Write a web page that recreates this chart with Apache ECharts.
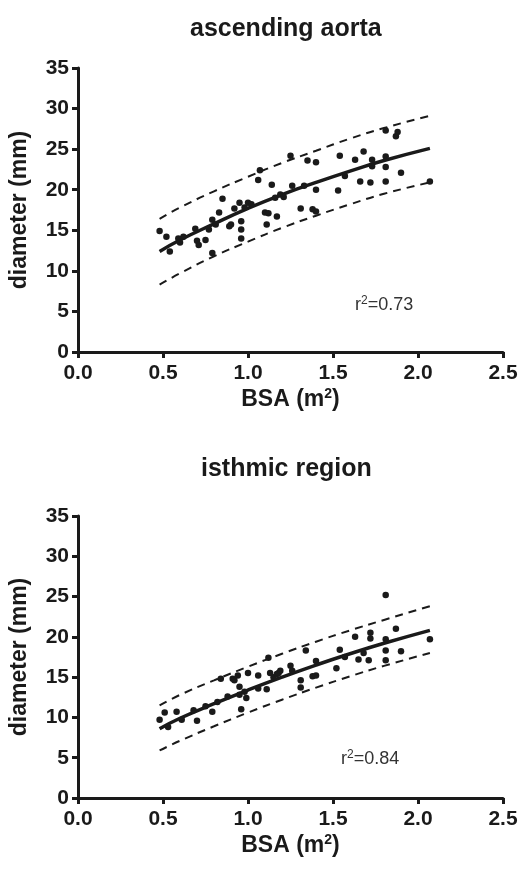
<!DOCTYPE html>
<html><head><meta charset="utf-8">
<script src="https://cdn.jsdelivr.net/npm/echarts@6/dist/echarts.min.js"></script>
<style>html,body{margin:0;padding:0;background:#fff}#c{width:521px;height:873px}</style>
</head><body><div id="c"></div>
<script>
const xTicks = [0.0, 0.5, 1.0, 1.5, 2.0, 2.5];
const yTicks = [0, 5, 10, 15, 20, 25, 30, 35];

const titles = ['ascending aorta', 'isthmic region'];
const r2Labels = ['0.73', '0.84'];

// ascending aorta: [BSA, diameter]
const aortaPoints = [[0.48,14.9],[0.52,14.2],[0.54,12.4],[0.59,14.0],[0.60,13.5],[0.62,14.2],[0.69,15.2],[0.70,13.7],[0.71,13.2],[0.75,13.8],[0.77,15.1],[0.79,12.2],[0.79,16.3],[0.81,15.7],[0.83,17.2],[0.85,18.9],[0.89,15.5],[0.90,15.7],[0.92,17.7],[0.95,18.4],[0.96,16.1],[0.96,15.1],[0.96,14.0],[0.98,17.8],[1.00,18.4],[1.02,18.2],[1.06,21.2],[1.07,22.4],[1.10,17.2],[1.11,15.7],[1.12,17.1],[1.14,20.6],[1.16,19.0],[1.17,16.7],[1.19,19.4],[1.21,19.1],[1.25,24.2],[1.26,20.5],[1.31,17.7],[1.33,20.5],[1.35,23.6],[1.38,17.6],[1.40,23.4],[1.40,17.3],[1.40,20.0],[1.53,19.9],[1.54,24.2],[1.57,21.7],[1.63,23.7],[1.66,21.0],[1.68,24.7],[1.72,20.9],[1.73,23.7],[1.73,22.9],[1.81,24.1],[1.81,22.8],[1.81,21.0],[1.81,27.3],[1.87,26.6],[1.88,27.1],[1.90,22.1],[2.07,21.0]];
const fitBSA = [0.48, 0.6, 0.8, 1.0, 1.2, 1.4, 1.6, 1.8, 2.07];
const aortaFit   = [12.4, 13.8, 15.8, 17.7, 19.4, 20.9, 22.3, 23.6, 25.1];
const aortaUpper = [16.4, 17.8, 19.8, 21.6, 23.3, 24.8, 26.3, 27.6, 29.1];
const aortaLower = [8.3, 9.7, 11.8, 13.6, 15.3, 16.8, 18.2, 19.5, 20.9];

// isthmic region: [BSA, diameter]
const isthmusPoints = [[0.48,9.7],[0.51,10.6],[0.53,8.8],[0.58,10.7],[0.61,9.7],[0.68,10.9],[0.70,9.6],[0.75,11.4],[0.79,10.7],[0.82,11.9],[0.84,14.8],[0.88,12.6],[0.91,14.8],[0.92,14.6],[0.94,15.2],[0.95,13.8],[0.95,12.8],[0.96,11.0],[0.99,12.4],[0.98,13.2],[1.00,15.5],[1.06,15.2],[1.06,13.6],[1.11,13.5],[1.12,17.4],[1.13,15.5],[1.15,15.0],[1.17,15.4],[1.18,15.5],[1.19,15.8],[1.25,16.4],[1.26,15.8],[1.31,14.6],[1.31,13.7],[1.34,18.3],[1.38,15.1],[1.40,15.2],[1.40,17.0],[1.52,16.1],[1.54,18.4],[1.57,17.5],[1.63,20.0],[1.65,17.2],[1.68,18.0],[1.71,17.1],[1.72,20.5],[1.72,19.8],[1.81,25.2],[1.81,19.7],[1.81,18.3],[1.81,17.1],[1.87,21.0],[1.90,18.2],[2.07,19.7]];
const isthmusFit   = [8.6, 9.9, 11.7, 13.4, 15.0, 16.5, 17.9, 19.2, 20.8];
const isthmusUpper = [11.5, 12.8, 14.6, 16.3, 17.9, 19.4, 20.8, 22.1, 23.8];
const isthmusLower = [5.9, 7.1, 8.9, 10.6, 12.2, 13.7, 15.1, 16.4, 18.0];

const INK = '#1a1a1a';
const FONT = '"Liberation Sans", Arial, sans-serif';
const zip = (xs, ys) => xs.map((x, i) => [x, ys[i]]);

const grids = [
  {left: 77, top: 68, width: 426, height: 284},
  {left: 77, top: 516, width: 426, height: 282}
];

function xAxis(i) {
  return {
    gridIndex: i, type: 'value', min: 0, max: 2.5, interval: 0.5,
    name: 'BSA (m{sup|2})', nameLocation: 'middle', nameGap: 35,
    nameTextStyle: {color: INK, fontFamily: FONT, fontWeight: 'bold', fontSize: 23,
      rich: {sup: {fontSize: 14, fontWeight: 'bold', color: INK, fontFamily: FONT, verticalAlign: 'top', padding: [0,0,12,0]}}},
    axisLine: {show: true, lineStyle: {color: INK, width: 3}},
    axisTick: {show: true, length: 6, lineStyle: {color: INK, width: 3}},
    axisLabel: {color: INK, fontFamily: FONT, fontWeight: 'bold', fontSize: 21, margin: 11,
      formatter: v => v.toFixed(1)},
    splitLine: {show: false}
  };
}
function yAxis(i) {
  return {
    gridIndex: i, type: 'value', min: 0, max: 35, interval: 5,
    name: 'diameter (mm)', nameLocation: 'middle', nameGap: 47,
    nameTextStyle: {color: INK, fontFamily: FONT, fontWeight: 'bold', fontSize: 23},
    axisLine: {show: true, lineStyle: {color: INK, width: 3}},
    axisTick: {show: true, length: 6, lineStyle: {color: INK, width: 3}},
    axisLabel: {color: INK, fontFamily: FONT, fontWeight: 'bold', fontSize: 21, margin: 9},
    splitLine: {show: false}
  };
}

function seriesFor(i, pts, fit, up, lo) {
  const lineBase = {type: 'line', xAxisIndex: i, yAxisIndex: i, symbol: 'none', smooth: true, silent: true};
  return [
    Object.assign({}, lineBase, {data: zip(fitBSA, fit), lineStyle: {color: INK, width: 3.5}, z: 3}),
    Object.assign({}, lineBase, {data: zip(fitBSA, up), lineStyle: {color: INK, width: 2, type: [8, 6]}}),
    Object.assign({}, lineBase, {data: zip(fitBSA, lo), lineStyle: {color: INK, width: 2, type: [8, 6]}}),
    {type: 'scatter', xAxisIndex: i, yAxisIndex: i, data: pts, symbol: 'circle', symbolSize: 6.5,
      itemStyle: {color: INK, opacity: 1}, z: 4}
  ];
}

const chart = echarts.init(document.getElementById('c'), null, {renderer: 'canvas'});
chart.setOption({
  animation: false,
  backgroundColor: '#fff',
  title: [
    {text: titles[0], left: 185, top: 12, textStyle: {fontFamily: FONT, fontWeight: 'bold', fontSize: 25, color: INK}},
    {text: titles[1], left: 196, top: 452, textStyle: {fontFamily: FONT, fontWeight: 'bold', fontSize: 25, color: INK}}
  ],
  grid: grids,
  xAxis: [xAxis(0), xAxis(1)],
  yAxis: [yAxis(0), yAxis(1)],
  graphic: [
    {type: 'text', left: 355, top: 295, style: {text: 'r{s|2}=' + r2Labels[0], fill: '#333', font: '18px ' + FONT,
      rich: {s: {fontSize: 12, fill: '#333', verticalAlign: 'top', padding: [0,0,9,0]}}}},
    {type: 'text', left: 341, top: 749, style: {text: 'r{s|2}=' + r2Labels[1], fill: '#333', font: '18px ' + FONT,
      rich: {s: {fontSize: 12, fill: '#333', verticalAlign: 'top', padding: [0,0,9,0]}}}}
  ],
  series: [].concat(
    seriesFor(0, aortaPoints, aortaFit, aortaUpper, aortaLower),
    seriesFor(1, isthmusPoints, isthmusFit, isthmusUpper, isthmusLower)
  )
});
</script></body></html>
